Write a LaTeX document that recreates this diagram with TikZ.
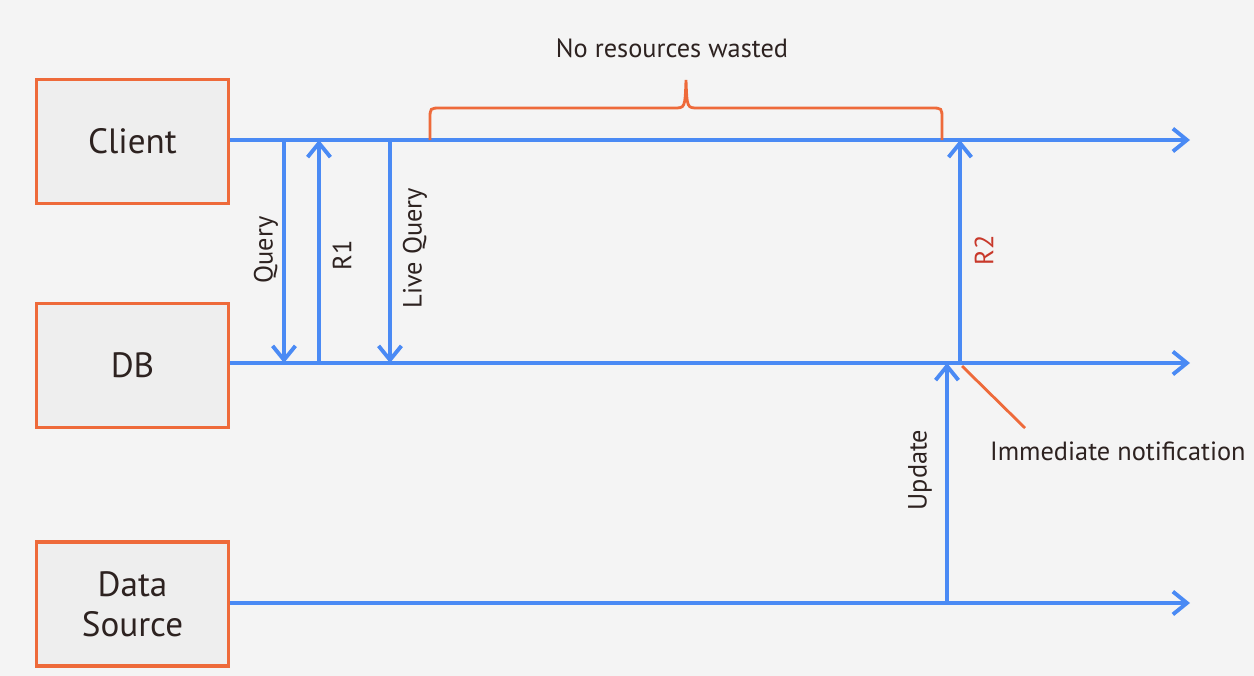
\documentclass[tikz,border=0pt]{standalone}
\usepackage{fontspec}
\setmainfont{PT Sans}
\usetikzlibrary{arrows.meta}
\definecolor{bgcol}{HTML}{F4F4F4}
\definecolor{boxfill}{HTML}{EEEEEE}
\definecolor{edge}{HTML}{EE6A3A}
\definecolor{flowblue}{HTML}{4A8AF4}
\definecolor{ink}{HTML}{2D2220}
\definecolor{rtwo}{HTML}{C8382A}
\begin{document}
\begin{tikzpicture}[x=0.02cm,y=-0.02cm,
  box/.style={draw=edge,line width=1.8pt,fill=boxfill,minimum width=3.84cm,minimum height=2.48cm,
    inner sep=0pt,align=center,text=ink,font=\fontsize{20}{23}\selectfont},
  flow/.style={draw=flowblue,line width=2.2pt,-{Straight Barb[length=8pt,width=13pt,line width=2.2pt]}},
  lbl/.style={text=ink,font=\fontsize{15}{18}\selectfont,inner sep=1pt}]

\fill[bgcol] (0,0) rectangle (1254,676);
\useasboundingbox (0,0) rectangle (1254,676);

\begin{scope}
\node[box] (client) at (132.5,141.5) {Client};
\node[box] (db) at (132.5,365.5) {DB};
\node[box] (src) at (132.5,604) {\raisebox{-3pt}{Data}\\\raisebox{-3pt}{Source}};

\coordinate (cend) at (1190,140);
\coordinate (dend) at (1190,363);
\coordinate (send) at (1190,603);

% time lines
\draw[flow] (client.east |- cend) -- (cend);
\draw[flow] (db.east |- dend) -- (dend);
\draw[flow] (src.east |- send) -- (send);

% messages
\coordinate (q1) at (284,140);
\coordinate (q2) at (284,363);
\coordinate (r1) at (319,363);
\coordinate (r1t) at (319,140);
\coordinate (l1) at (390,140);
\coordinate (l2) at (390,363);
\coordinate (r2) at (960,363);
\coordinate (r2t) at (960,140);
\coordinate (u1) at (947,603);
\coordinate (u2) at (947,363);

\draw[flow] (q1) -- (q2);
\draw[flow] (r1) -- (r1t);
\draw[flow] (l1) -- (l2);
\draw[flow] (r2) -- (r2t);
\draw[flow] (u1) -- (u2);

\node[lbl,rotate=90] (query) at (266,250) {Query};
\node[lbl,rotate=90] (rone) at (342,255) {R1};
\node[lbl,rotate=90] (live) at (415,248) {Live Query};
\node[lbl,rotate=90,text=rtwo] (rtwo) at (984,250) {R2};
\node[lbl,rotate=90] (upd) at (920,470) {Update};

% brace
\draw[edge,line width=1.6pt] (430,140) -- (430,119) .. controls (430,108) .. (441,108)
  -- (674,108) .. controls (685,108) .. (686,80) .. controls (687,108) .. (698,108)
  -- (931,108) .. controls (942,108) .. (942,119) -- (942,140);
\node[lbl] (waste) at (672,48) {No resources wasted};

% notification
\coordinate (ntip) at (962,366);
\coordinate (nend) at (1025,428);
\draw[edge,line width=1.6pt] (ntip) -- (nend);
\node[lbl,anchor=west] (notif) at (988,451) {Immediate notification};
\end{scope}

\end{tikzpicture}
\end{document}
